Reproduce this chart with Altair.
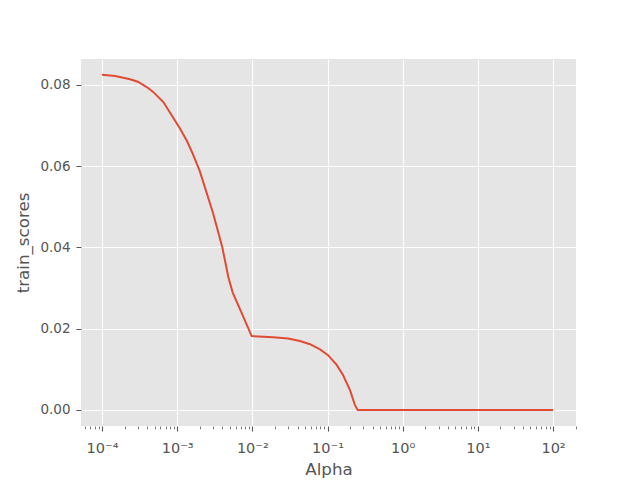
import altair as alt
import pandas as pd

# data
alpha = [1.0e-4, 1.5e-4, 2.36e-4, 3.0e-4, 3.94e-4, 4.8e-4, 6.55e-4, 8.7e-4, 1.09e-3,
         1.35e-3, 1.62e-3, 2.0e-3, 2.34e-3, 3.0e-3, 3.98e-3, 4.8e-3, 5.5e-3, 7.2e-3,
         9.8e-3, 1.88e-2, 3.0e-2, 4.31e-2, 5.85e-2, 7.94e-2, 0.1017, 0.1324, 0.1607,
         0.199, 0.232, 0.252, 1.0, 10.0, 100.0]
train_scores = [0.0825, 0.0822, 0.0814, 0.0808, 0.0795, 0.0783, 0.0758, 0.0722, 0.0693,
                0.0662, 0.0630, 0.0588, 0.0548, 0.0485, 0.0401, 0.0327, 0.0288, 0.0239,
                0.0182, 0.0179, 0.0176, 0.0170, 0.0162, 0.0149, 0.0135, 0.0111, 0.0086,
                0.0049, 0.0012, 0.0, 0.0, 0.0, 0.0]

x_major = [1e-4, 1e-3, 1e-2, 1e-1, 1e0, 1e1, 1e2]
x_tick_labels = ["10⁻⁴", "10⁻³", "10⁻²", "10⁻¹", "10⁰", "10¹", "10²"]
y_ticks = [0.0, 0.02, 0.04, 0.06, 0.08]

x_domain = [5.26e-5, 202]
x_minor = [m * 10.0 ** e for e in range(-5, 3) for m in range(2, 10)]
x_minor = [v for v in x_minor if x_domain[0] <= v <= x_domain[1]]
x_values = sorted(x_major + x_minor)

df = pd.DataFrame({"alpha": alpha, "train_scores": train_scores})

is_major = "abs(log(datum.value)/LN10 - round(log(datum.value)/LN10)) < 1e-6"
label_arr = "[" + ",".join("'" + s + "'" for s in x_tick_labels) + "]"
label_expr = f"({is_major}) ? {label_arr}[round(log(datum.value)/LN10) + 4] : ''"

GRAY = "#555555"
FONT = "DejaVu Sans"

x_axis = alt.Axis(
    values=x_values,
    labelExpr=label_expr,
    tickSize={"condition": {"test": is_major, "value": 5}, "value": 2.8},
    tickWidth={"condition": {"test": is_major, "value": 1.1}, "value": 0.8},
    gridOpacity={"condition": {"test": is_major, "value": 1}, "value": 0},
    labelPadding=10,
    labelFontSize=14.5,
    title="Alpha",
    titleX=247.5,
    titleY=43,
    titleBaseline="middle",
    labelFlush=False,
    labelOverlap=False,
)

y_axis = alt.Axis(
    values=y_ticks,
    format=".2f",
    tickSize=5,
    labelPadding=6,
    labelFontSize=13.5,
    title="train_scores",
    titleX=-58,
    titleY=183.5,
    titleAngle=-90,
    titleBaseline="middle",
    titleAlign="center",
)

chart = (
    alt.Chart(df)
    .mark_line(color="#E24A33", strokeWidth=2, clip=True)
    .encode(
        x=alt.X("alpha:Q", scale=alt.Scale(type="log", domain=x_domain, nice=False), axis=x_axis),
        y=alt.Y("train_scores:Q", scale=alt.Scale(domain=[-0.00394, 0.0864], nice=False, zero=False), axis=y_axis),
    )
    .properties(
        width=495,
        height=367,
        autosize=alt.AutoSizeParams(type="none"),
        padding={"left": 73, "top": 51, "right": 56, "bottom": 54},
        background="white",
    )
    .configure_view(fill="#E5E5E5", stroke=None, strokeWidth=0)
    .configure_axis(
        domain=False,
        grid=True,
        gridColor="white",
        gridWidth=1.1,
        tickColor=GRAY,
        labelColor=GRAY,
        labelFont=FONT,
        titleFont=FONT,
        titleColor=GRAY,
        titleFontSize=16.7,
        titleFontWeight="normal",
    )
)

chart.save("out.html", embed_options={"renderer": "svg", "actions": False})
